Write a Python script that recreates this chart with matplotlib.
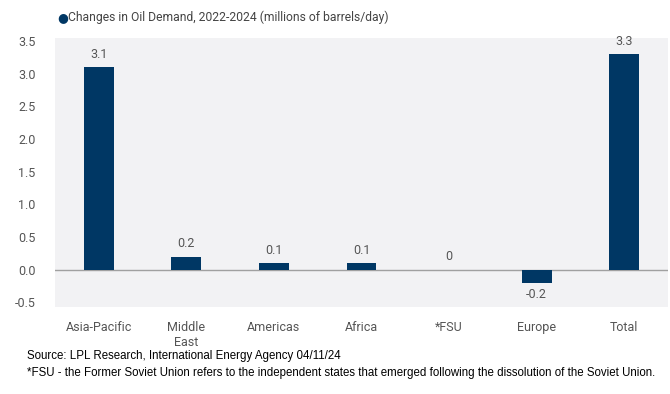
import matplotlib.pyplot as plt
import numpy as np

regions = ['Asia-Pacific', 'Middle\nEast', 'Americas', 'Africa', '*FSU', 'Europe', 'Total']
demand_change = [3.1, 0.2, 0.1, 0.1, 0.0, -0.2, 3.3]
value_labels = ['3.1', '0.2', '0.1', '0.1', '0', '-0.2', '3.3']
y_ticks = [-0.5, 0.0, 0.5, 1.0, 1.5, 2.0, 2.5, 3.0, 3.5]

navy = '#003764'
gray_txt = '#555555'

plt.rcParams['font.family'] = ['Roboto', 'DejaVu Sans']

fig = plt.figure(figsize=(6.7, 3.94), dpi=100)
ax = fig.add_axes([0.082, 0.221, 0.915, 0.683])
ax.set_facecolor('#f2f2f4')

x = np.arange(len(regions))
ax.bar(x, demand_change, width=0.34, color=navy, zorder=3)
ax.axhline(0, color='#a0a0a0', lw=1, zorder=2)

for xi, v, lab in zip(x, demand_change, value_labels):
    if v < 0:
        ax.text(xi, v - 0.08, lab, ha='center', va='top', fontsize=9, color=gray_txt)
    else:
        ax.text(xi, v + 0.1, lab, ha='center', va='bottom', fontsize=9, color=gray_txt)

ax.set_xlim(-0.5, 6.5)
ax.set_ylim(-0.57, 3.55)
ax.set_yticks(y_ticks)
ax.set_yticklabels(['%.1f' % t for t in y_ticks])
ax.set_xticks(x)
ax.set_xticklabels(regions)
ax.tick_params(axis='both', length=0, labelsize=9, colors=gray_txt)
ax.tick_params(axis='x', pad=10)
ax.tick_params(axis='y', pad=14)
for s in ax.spines.values():
    s.set_visible(False)

fig.text(0.085, 0.955, '\u25cf', fontsize=9, color=navy, va='center', ha='left')
fig.text(0.101, 0.955, 'Changes in Oil Demand, 2022-2024 (millions of barrels/day)',
         fontsize=8.7, color='#444444', va='center', ha='left')

fig.text(0.04, 0.097, 'Source: LPL Research, International Energy Agency 04/11/24',
         fontsize=8.3, color='black', family='Liberation Sans', va='center')
fig.text(0.04, 0.053, '*FSU - the Former Soviet Union refers to the independent states that emerged following the dissolution of the Soviet Union.',
         fontsize=8.3, color='black', family='Liberation Sans', va='center')

fig.savefig('out.png', dpi=100)
